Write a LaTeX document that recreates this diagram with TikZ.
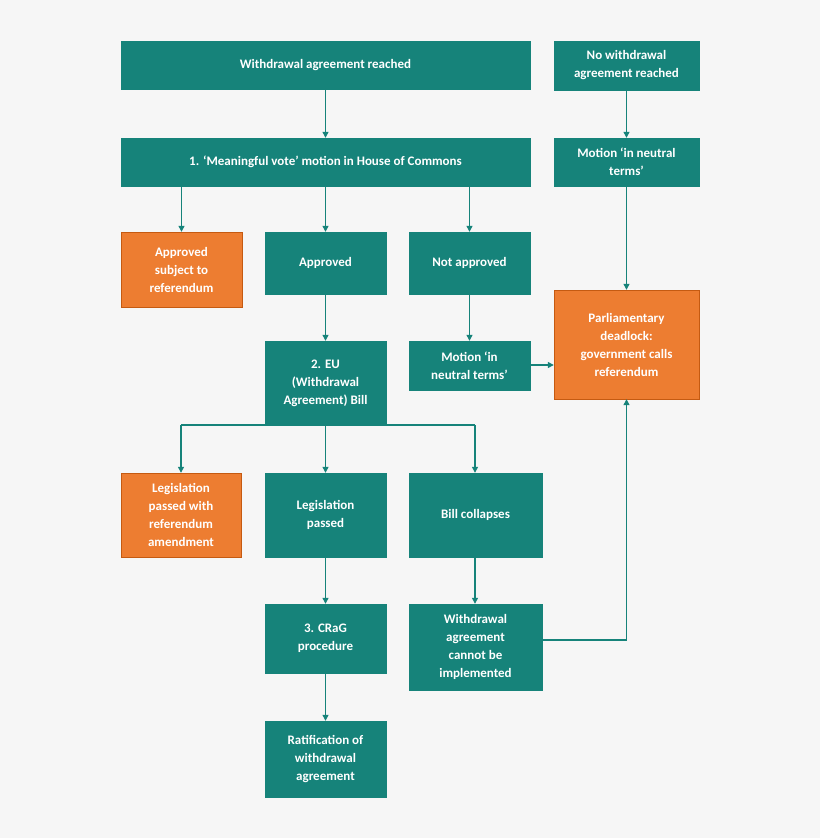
\documentclass[tikz,border=0pt]{standalone}
\usepackage{fontspec}
\setmainfont{Carlito}
\usetikzlibrary{arrows.meta}
\definecolor{teal1}{HTML}{16837A}
\definecolor{org}{HTML}{ED7D31}
\definecolor{orgb}{HTML}{C55A11}
\definecolor{bg}{HTML}{F6F6F6}
\begin{document}
\begin{tikzpicture}[x=1pt,y=-1pt,
 box/.style={fill=teal1,draw=teal1,text=white,font=\fontsize{13}{18}\selectfont\bfseries,align=center,inner sep=0pt},
 obox/.style={box,fill=org,draw=orgb},
 ar/.style={draw=teal1,line width=1.2pt,-{Triangle[length=6pt,width=6pt]}},
 ln/.style={draw=teal1,line width=1.2pt}]
\fill[bg] (0,0) rectangle (820,838);
\newcommand{\bx}[7]{\node[#1,minimum width=#4-#3,minimum height=#6-#5] (#2) at ({(#3+#4)/2},{(#5+#6)/2}) {#7};}
\bx{box}{A}{121}{530}{41}{89}{Withdrawal agreement reached}
\bx{box}{B}{554}{699}{41}{90}{No withdrawal\\agreement reached}
\bx{box}{C}{121}{530}{138}{186}{1. ‘Meaningful vote’ motion in House of Commons}
\bx{box}{D}{554}{699}{138}{186}{Motion ‘in neutral\\terms’}
\bx{obox}{E}{121}{242}{232}{307}{Approved\\subject to\\referendum}
\bx{box}{F}{265}{386}{232}{294}{Approved}
\bx{box}{G}{409}{530}{232}{294}{Not approved}
\bx{obox}{H}{554}{699}{290}{399}{Parliamentary\\deadlock:\\government calls\\referendum}
\bx{box}{I}{265}{386}{341}{425}{2. EU\\(Withdrawal\\Agreement) Bill}
\bx{box}{J}{409}{530}{341}{390}{Motion ‘in\\neutral terms’}
\bx{obox}{K}{121}{241}{473}{557}{Legislation\\passed with\\referendum\\amendment}
\bx{box}{L}{265}{386}{473}{557}{Legislation\\passed}
\bx{box}{M}{409}{542}{473}{557}{Bill collapses}
\bx{box}{N}{265}{386}{604}{673}{3. CRaG\\procedure}
\bx{box}{O}{409}{542}{604}{690}{Withdrawal\\agreement\\cannot be\\implemented}
\bx{box}{P}{265}{386}{721}{797}{Ratification of\\withdrawal\\agreement}
\draw[ar] (A.south) -- (C.north);
\draw[ar] (B.south) -- (D.north);
\draw[ar] (C.south -| E.north) -- (E.north);
\draw[ar] (C.south) -- (F.north);
\draw[ar] (C.south -| G.north) -- (G.north);
\draw[ar] (D.south) -- (H.north);
\draw[ar] (F.south) -- (I.north);
\draw[ar] (G.south) -- (J.north);
\draw[ar] (J.east |- 0,365) -- (H.west |- 0,365);
\coordinate (s1) at (181,425);
\coordinate (s2) at (475,425);
\draw[ln] (s1) -- (s2);
\draw[ar] (s1) -- (K.north -| s1);
\draw[ar] (I.south) -- (L.north);
\draw[ar] (s2) -- (M.north -| s2);
\draw[ar] (M.south -| s2) -- (O.north -| s2);
\draw[ar] (L.south) -- (N.north);
\draw[ar] (N.south) -- (P.north);
\draw[ar] (O.east |- 0,640) -| (H.south);
\end{tikzpicture}
\end{document}
